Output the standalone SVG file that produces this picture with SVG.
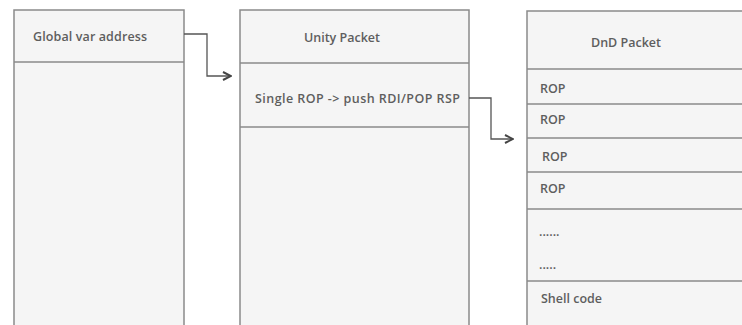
<svg xmlns="http://www.w3.org/2000/svg" width="742" height="325" viewBox="0 0 742 325">
<style>
.box{fill:#f5f5f5;stroke:#8a8a8a;stroke-width:1.5}
.div{stroke:#8a8a8a;stroke-width:1.5}
.t{font-family:"Open Sans","Liberation Sans",sans-serif;font-size:12.5px;font-weight:600;fill:#5e5e5e}
.c{fill:none;stroke:#555;stroke-width:1.3}
</style>
<defs>
<marker id="arr" viewBox="0 0 10 10" refX="9" refY="5" markerWidth="10" markerHeight="10" markerUnits="userSpaceOnUse" orient="auto">
<path d="M1,1 L9,5 L1,9" fill="none" stroke="#444" stroke-width="2"/>
</marker>
</defs>
<rect width="742" height="325" fill="#fff"/>
<g id="global">
<rect class="box" x="14" y="10" width="170" height="320"/>
<line class="div" x1="14" y1="62" x2="184" y2="62"/>
<text class="t" x="33" y="41" textLength="114">Global var address</text>
</g>
<g id="unity">
<rect class="box" x="240" y="10" width="229" height="320"/>
<line class="div" x1="240" y1="63" x2="469" y2="63"/>
<line class="div" x1="240" y1="127" x2="469" y2="127"/>
<text class="t" x="342" y="42" text-anchor="middle">Unity Packet</text>
<text class="t" x="255" y="103" textLength="205">Single ROP -&gt; push RDI/POP RSP</text>
</g>
<g id="dnd">
<rect class="box" x="527" y="11" width="230" height="320"/>
<line class="div" x1="527" y1="69" x2="742" y2="69"/>
<line class="div" x1="527" y1="104" x2="742" y2="104"/>
<line class="div" x1="527" y1="138" x2="742" y2="138"/>
<line class="div" x1="527" y1="172" x2="742" y2="172"/>
<line class="div" x1="527" y1="209" x2="742" y2="209"/>
<line class="div" x1="527" y1="281" x2="742" y2="281"/>
<text class="t" x="626" y="47" text-anchor="middle">DnD Packet</text>
<text class="t" x="540" y="93">ROP</text>
<text class="t" x="540" y="124">ROP</text>
<text class="t" x="542" y="161">ROP</text>
<text class="t" x="540" y="193">ROP</text>
<text class="t" x="539" y="236">......</text>
<text class="t" x="539" y="269">.....</text>
<text class="t" x="541" y="303">Shell code</text>
</g>
<g id="connectors">
<path class="c" d="M184,34 H207 V76 H231" marker-end="url(#arr)"/>
<path class="c" d="M469,98 H491 V139 H513" marker-end="url(#arr)"/>
</g>
</svg>
